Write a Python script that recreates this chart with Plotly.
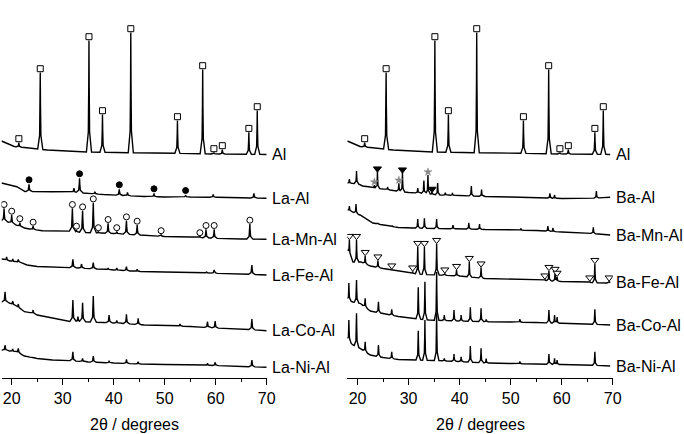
import numpy as np
import plotly.graph_objects as go

# ---------------- data: 2-theta (deg) and stacked intensity (a.u.) ----------------
AL_BASE_X = [18.0, 19.5, 20.5, 22.5, 24.0, 27.0, 30.0, 35.0, 43.0, 52.0, 60.0, 70.0]
AL_BASE_Y = [237, 233.5, 231.5, 230.5, 229.5, 228, 227, 226, 225.3, 224.7, 224, 223.5]
AL_PEAK_X = [21.4, 25.6, 35.15, 37.8, 43.35, 52.5, 57.45, 59.65, 61.3, 66.5, 68.15]
AL_PEAK_Y = [235.5, 305.5, 337.5, 263.5, 345.5, 257.5, 308.5, 225.5, 228.5, 245.8, 267.5]

LA_AL_BASE_X = [18, 19, 21, 22.6, 24, 28, 31, 34, 38, 42, 46, 50, 55, 60, 65, 70]
LA_AL_BASE_Y = [195, 194, 191.3, 186.5, 186.5, 186.3, 186, 185, 183.5, 182.5, 181.5, 181, 181, 180.7, 180.2, 179.7]
LA_AL_PEAK_X = [23.4, 32.2, 33.3, 36.3, 41.1, 42.7, 47.9, 54.1, 59.5, 67.5]
LA_AL_PEAK_Y = [193.7, 190, 199.7, 186.3, 188.7, 185.5, 184.7, 183, 183.7, 184.7]
LA_AL_MARK_X = [23.4, 33.3, 41.1, 47.9, 54.1]

LA_MN_BASE_X = [18, 19.2, 20.8, 22.5, 23.5, 26, 31, 34, 40, 45, 50, 55, 60, 65, 70]
LA_MN_BASE_Y = [157, 156, 153, 150, 149, 147.3, 147, 145.5, 144.5, 143, 141.5, 141, 139.7, 139, 138.7]
LA_MN_PEAK_X = [18.5, 20.0, 21.6, 24.2, 31.9, 32.7, 33.9, 36.0, 37.0, 38.9, 40.6, 42.5, 44.6,
                49.3, 56.9, 58.1, 59.7, 66.7]
LA_MN_PEAK_Y = [169.7, 163, 155.5, 152, 169.7, 148, 167.3, 175.3, 146.5, 154.7, 146.5, 157.3, 153,
                143.5, 141.5, 148.7, 148.7, 154]

LA_FE_BASE_X = [18, 20, 21.8, 23, 25, 31, 35, 40, 45, 50, 55, 60, 65, 70]
LA_FE_BASE_Y = [119, 116.5, 115.5, 113, 111.5, 110.5, 109.5, 108, 106.5, 106, 105.5, 104.7, 104, 103]
LA_FE_PEAK_X = [19.0, 20.2, 21.3, 32.0, 33.7, 36.0, 38.9, 40.6, 42.5, 44.6, 58.2, 59.7, 67.1]
LA_FE_PEAK_Y = [121, 119, 118.5, 118.7, 114, 115.3, 110, 110, 111.3, 108.7, 106.5, 108, 113]

LA_CO_BASE_X = [18, 19.5, 20.8, 22.5, 24, 25, 28, 31, 34, 38, 42, 46, 50, 55, 60, 65, 70]
LA_CO_BASE_Y = [76.3, 75, 72, 66.3, 65, 63, 60, 56.5, 56.3, 55.5, 54.5, 53, 52.5, 51.5, 50, 49, 47.3]
LA_CO_PEAK_X = [18.7, 20.2, 21.3, 24.2, 32.0, 33.0, 33.9, 36.0, 39.1, 40.6, 42.5, 44.8, 53.0, 58.4, 59.9, 67.1]
LA_CO_PEAK_Y = [86.3, 77, 74, 68, 78, 61.3, 75.3, 82, 63, 57.5, 63.7, 59.7, 54, 56.3, 57, 59]

LA_NI_BASE_X = [18, 19.5, 21, 22.5, 25, 28, 31, 35, 40, 45, 50, 55, 60, 65, 70]
LA_NI_BASE_Y = [28, 27, 26, 22, 19.5, 18, 17.5, 16, 15, 14, 13.5, 13, 12.5, 11.5, 10.7]
LA_NI_PEAK_X = [18.7, 20.2, 21.3, 24.2, 32.0, 33.9, 36.0, 39.1, 42.5, 44.8, 58.4, 59.9, 67.1]
LA_NI_PEAK_Y = [33, 29, 29.7, 21, 26.3, 19.7, 22, 17.3, 18.7, 16.3, 14.7, 15.7, 18]

BA_AL_BASE_X = [18, 20, 21, 23, 25, 27, 30, 32, 36, 40, 45, 50, 55, 60, 65, 69.5]
BA_AL_BASE_Y = [194.7, 194.5, 192, 190, 189, 187.5, 185.5, 185, 183, 182.5, 181.5, 181, 180.5, 179.5, 179.5, 180.7]
BA_AL_PEAK_X = [18.4, 19.8, 23.3, 23.9, 25.9, 28.1, 28.8, 31.8, 33.0, 33.8, 34.6, 35.7, 37.2, 38.6,
                42.3, 44.3, 57.7, 58.6, 66.8]
BA_AL_PEAK_Y = [199, 207, 193, 206.3, 191, 194.7, 205.3, 190, 197.5, 203, 186, 195, 185.5, 185,
                192, 188.5, 184.7, 183, 187]
BA_AL_TRI_X = [23.9, 28.8, 34.6]
BA_AL_STAR_X = [23.3, 28.1, 33.8]

BA_MN_BASE_X = [18, 19, 20.5, 22, 23, 25, 28, 31, 35, 42, 45, 50, 55, 60, 65, 69.5]
BA_MN_BASE_Y = [168, 166, 163, 158, 155, 153, 150.5, 150, 149.5, 149, 148.5, 148, 147.5, 146, 145, 143]
BA_MN_PEAK_X = [18.4, 19.7, 21.5, 24.0, 26.8, 31.8, 33.1, 35.5, 38.7, 41.8, 43.9, 52.0, 57.3, 58.3, 66.2]
BA_MN_PEAK_Y = [172, 174, 159.7, 155, 152, 159, 159.7, 159, 153, 155.3, 154, 149.5, 152, 150, 150.7]

BA_FE_BASE_X = [18, 19.1, 20.7, 22.5, 25, 28, 30, 33, 36, 40, 45, 50, 55, 60, 65, 69.5]
BA_FE_BASE_Y = [128, 116, 116, 112, 109.5, 107, 105, 103.5, 103, 102, 99.5, 98.8, 98, 96.5, 95.5, 95]
BA_FE_PEAK_X = [18.4, 19.8, 21.5, 24.0, 26.7, 30.8, 31.8, 33.1, 35.5, 37.1, 39.4, 41.9, 44.2,
                56.7, 57.5, 58.7, 59.1, 65.5, 66.5, 69.3]
BA_FE_PEAK_Y = [138, 138, 122, 117.5, 108.5, 106.5, 131, 131, 134, 104.5, 108, 116, 110.5,
                98.5, 107, 105, 101, 96.5, 114, 96.5]

BA_CO_BASE_X = [18, 19.1, 20.5, 22.5, 25, 28, 31, 34, 37, 40, 45, 50, 55, 60, 65, 69.5]
BA_CO_BASE_Y = [78, 76, 74.7, 67, 64.5, 61.5, 59.5, 58, 57.5, 57, 56.3, 56, 55.5, 54.7, 54, 53]
BA_CO_PEAK_X = [18.3, 19.8, 21.5, 24.1, 26.7, 31.9, 33.2, 35.5, 37.0, 38.9, 40.3, 42.1, 44.2, 45.2,
                51.8, 57.5, 58.6, 59.1, 66.5]
BA_CO_PEAK_Y = [95, 98, 79.7, 76.3, 68.7, 90.7, 96.3, 106, 63, 68, 63, 70.7, 69.7, 58.7,
                59, 68, 63, 61, 68.7]

BA_NI_BASE_X = [18, 19.1, 20.5, 22.5, 25, 28, 31, 35, 40, 45, 50, 55, 60, 65, 69.5]
BA_NI_BASE_Y = [38, 33, 29.7, 23, 20.5, 18.5, 18, 17.5, 16.5, 15, 14.5, 14, 13.5, 13, 12]
BA_NI_PEAK_X = [18.3, 19.8, 21.5, 24.1, 26.7, 31.9, 33.2, 35.5, 37.0, 38.9, 40.3, 42.1, 44.2, 45.2,
                51.8, 57.5, 58.6, 59.1, 66.5]
BA_NI_PEAK_Y = [58, 64.7, 36.3, 33, 26.3, 47.3, 58, 64.7, 19.7, 24, 21.3, 32, 29.7, 19.5,
                16.5, 24, 19.7, 18, 26.3]

TICKS = [20, 30, 40, 50, 60, 70]
MINOR_TICKS = [25, 35, 45, 55, 65]
AXIS_TITLE = "2θ / degrees"

# ---------------- rendering helpers ----------------
def profile(bx, by, px, py, hw, xmax):
    """Polyline through baseline anchors with each read peak drawn as a narrow spike."""
    knots = set(bx) | {xmax}
    for p in px:
        knots |= {p - hw, p - hw / 4, p - hw / 12, p, p + hw / 12, p + hw / 4, p + hw}
    xs = np.array(sorted(k for k in knots if bx[0] <= k <= xmax))
    ys = np.interp(xs, bx, by)
    for p, top in zip(px, py):
        h = top - np.interp(p, bx, by)
        ys = ys + np.interp(xs, [p - hw, p - hw / 4, p - hw / 12, p, p + hw / 12, p + hw / 4, p + hw],
                            [0, 0.18 * h, 0.6 * h, h, 0.6 * h, 0.18 * h, 0], left=0, right=0)
    return xs, ys

fig = go.Figure()
FONT = "Liberation Sans, Arial, sans-serif"
LINE = dict(color="black", width=1.4)

def yref_of(xref):
    return "y" if xref == "x" else "y2"

def add_pattern(bx, by, px, py, name, xref, xmax, hw, shift):
    xs, ys = profile(bx, by, px, py, hw, xmax)
    fig.add_trace(go.Scatter(x=xs, y=ys, mode="lines", line=LINE, xaxis=xref, yaxis=yref_of(xref),
                             showlegend=False, hoverinfo="skip"))
    fig.add_annotation(x=xmax, y=ys[-1], xref=xref, yref=yref_of(xref), text=name,
                       showarrow=False, xanchor="left", yanchor="middle", xshift=shift,
                       font=dict(family=FONT, size=16, color="black"))
    return xs, ys

def add_marks(xs, ys, mx, xref, symbol, size, off, fill="white", edge="black", lw=1):
    my = np.interp(mx, xs, ys) + off
    fig.add_trace(go.Scatter(x=mx, y=my, mode="markers", xaxis=xref, yaxis=yref_of(xref),
                             marker=dict(symbol=symbol, size=size, color=fill,
                                         line=dict(color=edge, width=lw)),
                             showlegend=False, hoverinfo="skip"))

# left panel
xs, ys = add_pattern(AL_BASE_X, AL_BASE_Y, AL_PEAK_X, AL_PEAK_Y, "Al", "x", 70, 0.5, 3)
add_marks(xs, ys, AL_PEAK_X, "x", "square", 6, 3.8)
xs, ys = add_pattern(LA_AL_BASE_X, LA_AL_BASE_Y, LA_AL_PEAK_X, LA_AL_PEAK_Y, "La-Al", "x", 70, 0.65, 3)
add_marks(xs, ys, LA_AL_MARK_X, "x", "circle", 6, 4.5, fill="black")
xs, ys = add_pattern(LA_MN_BASE_X, LA_MN_BASE_Y, LA_MN_PEAK_X, LA_MN_PEAK_Y, "La-Mn-Al", "x", 70, 0.6, 3)
add_marks(xs, ys, LA_MN_PEAK_X, "x", "circle", 6, 3.8)
add_pattern(LA_FE_BASE_X, LA_FE_BASE_Y, LA_FE_PEAK_X, LA_FE_PEAK_Y, "La-Fe-Al", "x", 70, 0.65, 3)
add_pattern(LA_CO_BASE_X, LA_CO_BASE_Y, LA_CO_PEAK_X, LA_CO_PEAK_Y, "La-Co-Al", "x", 70, 0.6, 3)
add_pattern(LA_NI_BASE_X, LA_NI_BASE_Y, LA_NI_PEAK_X, LA_NI_PEAK_Y, "La-Ni-Al", "x", 70, 0.6, 3)

# right panel
xs, ys = add_pattern(AL_BASE_X, AL_BASE_Y, AL_PEAK_X, AL_PEAK_Y, "Al", "x2", 69.5, 0.5, 4)
add_marks(xs, ys, AL_PEAK_X, "x2", "square", 6, 3.8)
xs, ys = add_pattern(BA_AL_BASE_X, BA_AL_BASE_Y, BA_AL_PEAK_X, BA_AL_PEAK_Y, "Ba-Al", "x2", 69.5, 0.45, 4)
add_marks(xs, ys, BA_AL_STAR_X, "x2", "star", 6, 3, fill="#888888", edge="#888888", lw=0.5)
add_marks(xs, ys, BA_AL_TRI_X, "x2", "triangle-down", 7, 3, fill="black")
add_pattern(BA_MN_BASE_X, BA_MN_BASE_Y, BA_MN_PEAK_X, BA_MN_PEAK_Y, "Ba-Mn-Al", "x2", 69.5, 0.45, 4)
xs, ys = add_pattern(BA_FE_BASE_X, BA_FE_BASE_Y, BA_FE_PEAK_X, BA_FE_PEAK_Y, "Ba-Fe-Al", "x2", 69.5, 0.45, 4)
add_marks(xs, ys, BA_FE_PEAK_X, "x2", "triangle-down", 7, 3.8)
add_pattern(BA_CO_BASE_X, BA_CO_BASE_Y, BA_CO_PEAK_X, BA_CO_PEAK_Y, "Ba-Co-Al", "x2", 69.5, 0.45, 4)
add_pattern(BA_NI_BASE_X, BA_NI_BASE_Y, BA_NI_PEAK_X, BA_NI_PEAK_Y, "Ba-Ni-Al", "x2", 69.5, 0.45, 4)

xaxis_style = dict(range=[18, 70], tickvals=TICKS, ticks="outside", ticklen=6, tickwidth=1, tickcolor="black",
                   showline=True, linecolor="black", linewidth=1, showgrid=False, zeroline=False,
                   automargin=False,
                   minor=dict(tickvals=MINOR_TICKS, ticks="outside", ticklen=3, tickwidth=1, tickcolor="black"),
                   tickfont=dict(family=FONT, size=16, color="black"))
yaxis_style = dict(range=[0, 378], visible=False, showgrid=False, zeroline=False)

fig.update_layout(
    width=684, height=434, autosize=False, margin=dict(l=0, r=0, t=0, b=56, pad=0),
    paper_bgcolor="white", plot_bgcolor="white", showlegend=False,
    xaxis=dict(domain=[0.0022, 0.3899], anchor="y", **xaxis_style),
    xaxis2=dict(domain=[0.5078, 0.8958], anchor="y2", **xaxis_style),
    yaxis=dict(anchor="x", **yaxis_style),
    yaxis2=dict(anchor="x2", **yaxis_style),
)
for xc in [(0.0022 + 0.3899) / 2, (0.5078 + 0.8958) / 2]:
    fig.add_annotation(x=xc, y=-0.124, xref="paper", yref="paper", text=AXIS_TITLE, showarrow=False,
                       xanchor="center", yanchor="middle", font=dict(family=FONT, size=16, color="black"))

fig.write_html("out.html", config={"responsive": False, "displayModeBar": False})
